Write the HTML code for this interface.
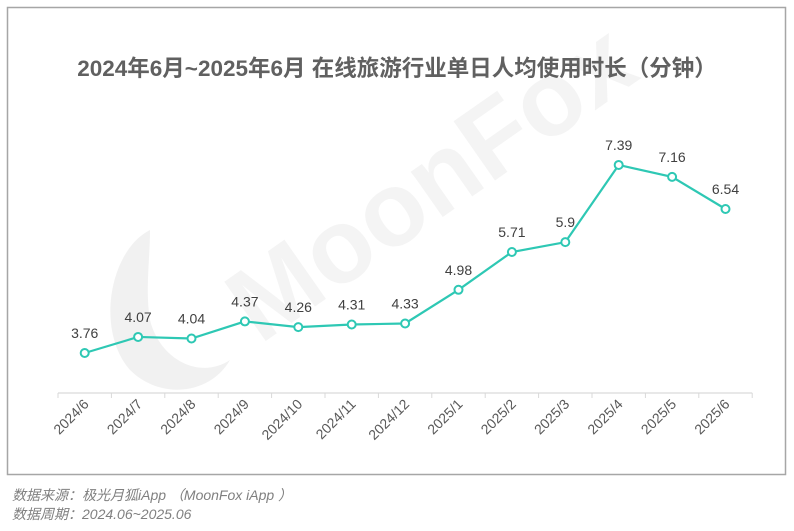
<!DOCTYPE html>
<html><head><meta charset="utf-8"><style>
body{margin:0;width:794px;height:526px;background:#fff;font-family:"Liberation Sans","Noto Sans CJK SC",sans-serif;overflow:hidden}
</style></head><body>
<svg width="794" height="526">
<rect x="7.5" y="7.5" width="778" height="467" fill="#fff" stroke="#a6a6a6" stroke-width="1.5"/>
<g opacity="0.55">
<path d="M150 230 C110 250 95 330 130 370 C160 400 210 395 230 360 C200 380 160 360 150 320 C145 290 150 260 150 230Z" fill="#e6e6e6"/>
<text x="260" y="345" transform="rotate(-35 260 345)" font-size="105" font-weight="bold" fill="#ececec" font-family="Liberation Sans,sans-serif">MoonFox</text>
</g>
<text x="397" y="76" text-anchor="middle" font-size="22.5" font-weight="bold" fill="#606060">2024年6月~2025年6月 在线旅游行业单日人均使用时长（分钟）</text>
<g id="axis"></g>
<g id="series"></g>
<text x="12" y="500" font-size="14" font-style="italic" fill="#808080">数据来源：极光月狐iApp （MoonFox iApp ）</text>
<text x="12" y="519" font-size="14" font-style="italic" fill="#808080">数据周期：2024.06~2025.06</text>
</svg>
<script>
const categories=["2024/6","2024/7","2024/8","2024/9","2024/10","2024/11","2024/12","2025/1","2025/2","2025/3","2025/4","2025/5","2025/6"];
const values=[3.76,4.07,4.04,4.37,4.26,4.31,4.33,4.98,5.71,5.9,7.39,7.16,6.54];
const ns="http://www.w3.org/2000/svg";
const x0=58,bw=53.4,axisY=393;
const xs=i=>x0+bw*(i+0.5);
const ys=v=>353-(v-3.76)*51.8;
function mk(tag,attrs,parent){const e=document.createElementNS(ns,tag);for(const k in attrs)e.setAttribute(k,attrs[k]);parent.appendChild(e);return e;}
const ax=document.getElementById('axis'),sr=document.getElementById('series');
const al=mk('line',{x1:x0,x2:x0+bw*categories.length,y1:axisY,y2:axisY,stroke:'#d9d9d9','stroke-width':1.2},ax);


for(let i=0;i<=categories.length;i++){const t=mk('line',{x1:x0+bw*i,x2:x0+bw*i,y1:axisY,y2:axisY+5,stroke:'#d9d9d9'},ax);

}
categories.forEach((c,i)=>{const x=xs(i)+5,y=axisY+12;
const t=mk('text',{x:x,y:y,'text-anchor':'end','font-size':14,fill:'#595959',transform:`rotate(-45 ${x} ${y})`},ax);t.textContent=c;

});
const pl=mk('polyline',{points:values.map((v,i)=>xs(i)+','+ys(v)).join(' '),fill:'none',stroke:'#2ec8b4','stroke-width':2.2},sr);


values.forEach((v,i)=>{const c=mk('circle',{cx:xs(i),cy:ys(v),r:4,fill:'#fff',stroke:'#2ec8b4','stroke-width':2},sr);


const t=mk('text',{x:xs(i),y:ys(v)-15,'text-anchor':'middle','font-size':14,fill:'#404040'},sr);t.textContent=v;

});
</script>
</body></html>
